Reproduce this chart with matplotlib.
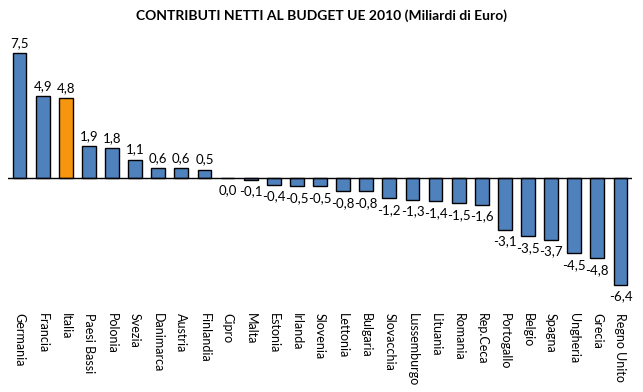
import matplotlib
matplotlib.use("Agg")
import matplotlib.pyplot as plt

countries = ["Germania", "Francia", "Italia", "Paesi Bassi", "Polonia", "Svezia",
             "Danimarca", "Austria", "Finlandia", "Cipro", "Malta", "Estonia",
             "Irlanda", "Slovenia", "Lettonia", "Bulgaria", "Slovacchia",
             "Lussemburgo", "Lituania", "Romania", "Rep.Ceca", "Portogallo",
             "Belgio", "Spagna", "Ungheria", "Grecia", "Regno Unito"]
values = [7.5, 4.9, 4.8, 1.9, 1.8, 1.1, 0.6, 0.6, 0.5, 0.0, -0.1, -0.4,
          -0.5, -0.5, -0.8, -0.8, -1.2, -1.3, -1.4, -1.5, -1.6, -3.1,
          -3.5, -3.7, -4.5, -4.8, -6.4]
highlight = "Italia"

plt.rcParams['font.family'] = ['Lato', 'DejaVu Sans']

fig = plt.figure(figsize=(6.43, 3.92), dpi=100)
ax = fig.add_axes([8/643, 1-305/392, 624/643, 270/392])

colors = ["#F7960E" if c == highlight else "#4F81BD" for c in countries]
x = list(range(len(countries)))
ax.bar(x, values, width=0.6, color=colors, edgecolor="black", linewidth=1.0, zorder=2)
ax.axhline(0, color="black", linewidth=1.0, zorder=3)

for xi, v in zip(x, values):
    lab = f"{v:.1f}".replace(".", ",")
    if v > 0:
        ax.text(xi, v + 0.25, lab, ha="center", va="bottom", fontsize=9.5)
    else:
        ax.text(xi, v - 0.35, lab, ha="center", va="top", fontsize=9.5)

ax.set_xlim(-0.5, len(countries) - 0.5)
ax.set_ylim(-(305-178)/16.67, (178-35)/16.67)
ax.set_xticks(x)
ax.set_xticklabels(countries, rotation=270, fontsize=9, va="top", ha="center")
ax.tick_params(axis="x", length=0, pad=6)
ax.set_yticks([])
for s in ax.spines.values():
    s.set_visible(False)

fig.text(0.5, 1-16/392, "CONTRIBUTI NETTI AL BUDGET UE 2010 (Miliardi di Euro)",
         ha="center", va="center", fontsize=10, fontweight="bold")

fig.savefig("out.png", dpi=100)
